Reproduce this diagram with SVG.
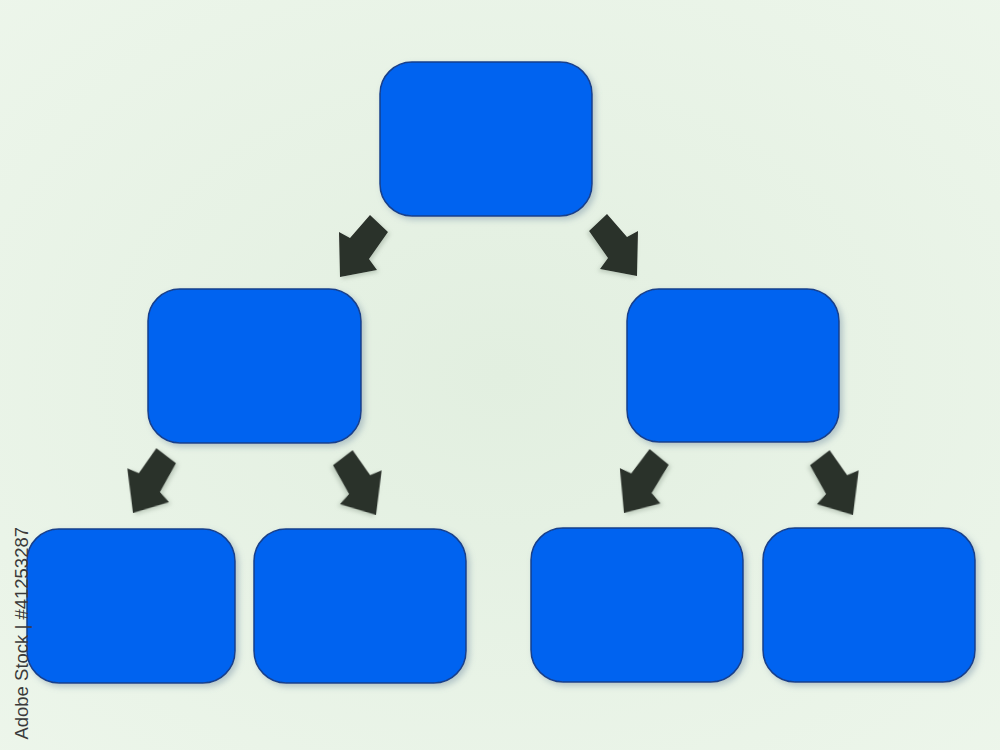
<svg xmlns="http://www.w3.org/2000/svg" width="1000" height="750" viewBox="0 0 1000 750">
  <defs>
    <radialGradient id="bg" cx="50%" cy="50%" r="75%">
      <stop offset="0" stop-color="#e2efe0"/>
      <stop offset="1" stop-color="#edf6eb"/>
    </radialGradient>
    <filter id="shadow" x="-10%" y="-10%" width="125%" height="130%">
      <feGaussianBlur in="SourceAlpha" stdDeviation="3"/>
      <feOffset dx="3" dy="3" result="b"/>
      <feFlood flood-color="#6f8aa0" flood-opacity="0.45"/>
      <feComposite in2="b" operator="in"/>
      <feMerge><feMergeNode/><feMergeNode in="SourceGraphic"/></feMerge>
    </filter>
    <filter id="ashadow" x="-20%" y="-20%" width="150%" height="150%">
      <feGaussianBlur in="SourceAlpha" stdDeviation="2"/>
      <feOffset dx="2" dy="2" result="b"/>
      <feFlood flood-color="#7f9080" flood-opacity="0.4"/>
      <feComposite in2="b" operator="in"/>
      <feMerge><feMergeNode/><feMergeNode in="SourceGraphic"/></feMerge>
    </filter>
    <path id="arrowDL" d="M0,0 L-1,-45 L10,-39 L30,-62 L48,-45 L29,-18 L37,-7 Z"/>
  </defs>
  <style>
    .box { fill: #0063f0; stroke: #163f8c; stroke-width: 1.5; filter: url(#shadow); }
    .arrow { fill: #2b302a; filter: url(#ashadow); }
    .stamp { font-family: "Liberation Sans", Arial, sans-serif; font-size: 18.5px; fill: #3a3a3a; }
  </style>

  <rect x="0" y="0" width="1000" height="750" fill="url(#bg)"/>

  <g id="node-top"><rect class="box" x="380" y="62" width="212" height="154" rx="32"/></g>
  <g id="node-mid-left"><rect class="box" x="148" y="289" width="213" height="154" rx="32"/></g>
  <g id="node-mid-right"><rect class="box" x="627" y="289" width="212" height="153" rx="32"/></g>
  <g id="node-bottom-1"><rect class="box" x="27" y="529" width="208" height="154" rx="32"/></g>
  <g id="node-bottom-2"><rect class="box" x="254" y="529" width="212" height="154" rx="32"/></g>
  <g id="node-bottom-3"><rect class="box" x="531" y="528" width="212" height="154" rx="32"/></g>
  <g id="node-bottom-4"><rect class="box" x="763" y="528" width="212" height="154" rx="32"/></g>

  <g id="connectors">
    <use href="#arrowDL" class="arrow" transform="translate(340,277)"/>
    <use href="#arrowDL" class="arrow" transform="translate(637,276) scale(-1,1)"/>
    <use href="#arrowDL" class="arrow" transform="translate(133,513) rotate(-6)"/>
    <use href="#arrowDL" class="arrow" transform="translate(376,515) scale(-1,1) rotate(-6)"/>
    <use href="#arrowDL" class="arrow" transform="translate(624,513) rotate(-4)"/>
    <use href="#arrowDL" class="arrow" transform="translate(853,515) scale(-1,1) rotate(-6)"/>
  </g>

  <text class="stamp" transform="translate(28,527) rotate(-90)" text-anchor="end">Adobe Stock | #41253287</text>
</svg>
